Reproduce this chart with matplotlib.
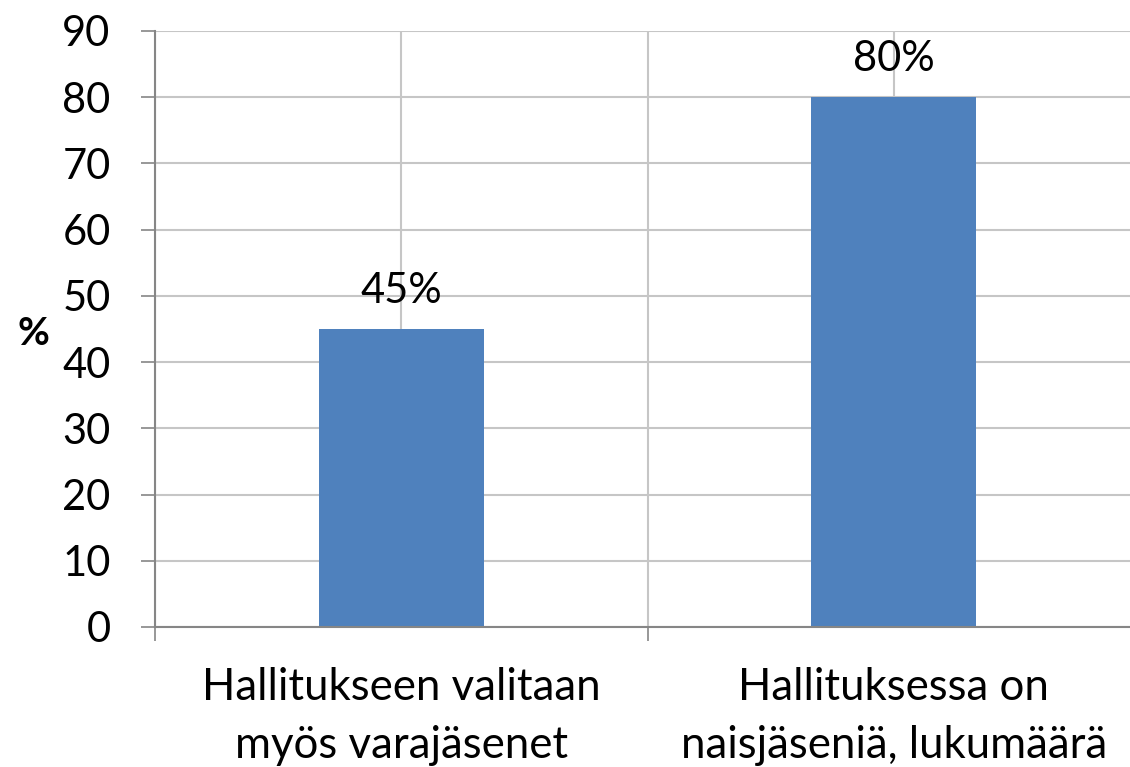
import matplotlib.pyplot as plt

kategoriat = ['Hallitukseen valitaan\nmyös varajäsenet', 'Hallituksessa on\nnaisjäseniä, lukumäärä']
arvot = [45, 80]
arvo_tekstit = ['45%', '80%']
y_tikit = [0, 10, 20, 30, 40, 50, 60, 70, 80, 90]

plt.rcParams['font.family'] = ['Lato', 'DejaVu Sans']

fig = plt.figure(figsize=(11.3, 7.67), dpi=100)
ax = fig.add_axes([155 / 1130, 140 / 767, 985 / 1130, 596 / 767])

x = list(range(len(kategoriat)))
ax.bar(x, arvot, width=0.335, color='#4F81BD', zorder=3)

for xi, v, t in zip(x, arvot, arvo_tekstit):
    ax.annotate(t, (xi, v), xytext=(0, 14), textcoords='offset points',
                ha='center', va='bottom', fontsize=30, zorder=4)

ax.set_xlim(-0.5, 1.5)
ax.set_ylim(0, 90)
ax.set_yticks(y_tikit)
ax.set_yticklabels([str(t) for t in y_tikit], fontsize=30)
ax.set_xticks(x)
ax.set_xticklabels(kategoriat, fontsize=31.5, linespacing=1.52)
ax.set_xticks([-0.5, 0.5, 1.5], minor=True)

ax.tick_params(axis='x', which='major', length=0, pad=29)
ax.tick_params(axis='x', which='minor', length=10, width=1.2, color='#868686')
ax.tick_params(axis='y', length=10, width=1.2, color='#868686', pad=22)

ax.grid(axis='y', color='#c6c6c6', linewidth=1.5, zorder=0)
ax.grid(axis='x', which='both', color='#c6c6c6', linewidth=1.5, zorder=0)

for s in ['top', 'right']:
    ax.spines[s].set_visible(False)
for s in ['left', 'bottom']:
    ax.spines[s].set_color('#868686')
    ax.spines[s].set_linewidth(1.5)
    ax.spines[s].set_zorder(5)

ax.set_ylabel('%', fontsize=28, fontweight='bold', rotation=0, va='center', ha='center')
ax.yaxis.set_label_coords(-0.123, 0.493)

fig.savefig('out.png', dpi=100)
